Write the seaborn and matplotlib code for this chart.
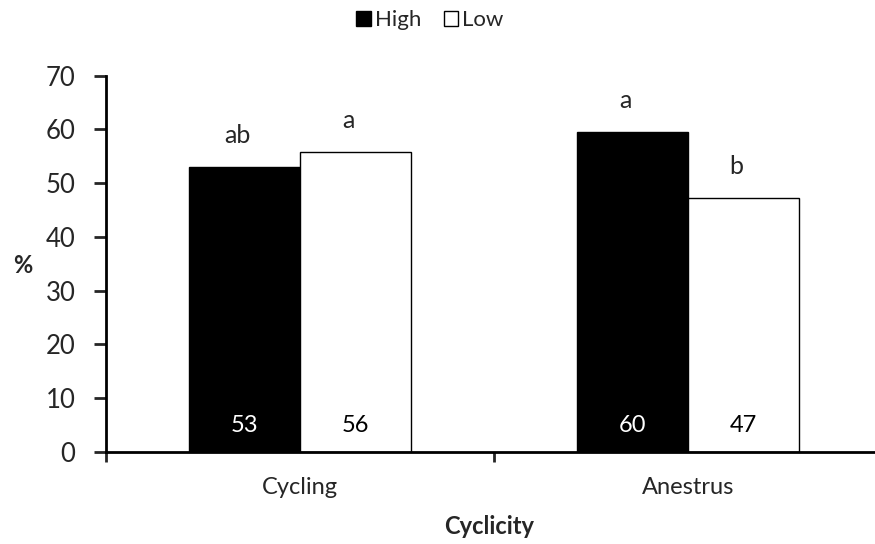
import matplotlib
matplotlib.use("Agg")
import matplotlib.pyplot as plt
import seaborn as sns
import pandas as pd
from matplotlib.patches import Patch

categories = ["Cycling", "Anestrus"]
groups = ["High", "Low"]
high_values = [53.0, 59.5]
low_values = [55.8, 47.2]
high_labels = ["53", "60"]
low_labels = ["56", "47"]
high_letters = ["ab", "a"]
low_letters = ["a", "b"]
y_ticks = [0, 10, 20, 30, 40, 50, 60, 70]

sns.set_theme(style="white")
plt.rcParams["font.family"] = ["Lato", "DejaVu Sans"]

df = pd.DataFrame({
    "Cyclicity": categories * 2,
    "Group": ["High"] * 2 + ["Low"] * 2,
    "Value": high_values + low_values,
})

fig = plt.figure(figsize=(8.75, 5.44), dpi=100)
ax = fig.add_axes([106 / 875, 1 - 452 / 544, (882 - 106) / 875, (452 - 75.7) / 544])

sns.barplot(data=df, x="Cyclicity", y="Value", hue="Group", order=categories,
            hue_order=groups, palette={"High": "black", "Low": "white"},
            width=0.572, gap=0, edgecolor="black", linewidth=1.0,
            errorbar=None, legend=False, ax=ax)

ax.set_xlim(-0.5, 1.5)
ax.set_ylim(0, 70)
ax.set_yticks(y_ticks)
ax.set_yticklabels([str(t) for t in y_ticks], fontsize=18.5)
ax.tick_params(axis="y", direction="out", length=9, width=2, left=True, pad=13)
ax.set_xticks([0, 1])
ax.set_xticklabels(categories, fontsize=17)
ax.tick_params(axis="x", which="major", length=0, pad=18)
ax.set_xticks([-0.5, 0.5, 1.5], minor=True)
ax.tick_params(axis="x", which="minor", direction="out", length=7, width=2, bottom=True)

for s in ["top", "right"]:
    ax.spines[s].set_visible(False)
for s in ["left", "bottom"]:
    ax.spines[s].set_linewidth(2)
    ax.spines[s].set_color("black")

ax.set_xlabel("Cyclicity", fontsize=17, fontweight="bold", va="center")
ax.xaxis.set_label_coords(0.4935, -0.199)
ax.set_ylabel("%", fontsize=17, fontweight="bold", rotation=0, va="center", ha="center")
ax.yaxis.set_label_coords(-0.107, 0.495)

bw = 0.286
for i in range(len(categories)):
    xh = i - bw / 2
    xl = i + bw / 2
    ax.text(xh, 5, high_labels[i], ha="center", va="center", color="white", fontsize=17)
    ax.text(xl, 5, low_labels[i], ha="center", va="center", color="black", fontsize=17)
    ax.annotate(high_letters[i], (xh, high_values[i]), xytext=(-5, 23),
                textcoords="offset points", ha="center", va="center", fontsize=18)
    ax.annotate(low_letters[i], (xl, low_values[i]), xytext=(-5, 23),
                textcoords="offset points", ha="center", va="center", fontsize=18)

handles = [Patch(facecolor="black", edgecolor="black", label="High"),
           Patch(facecolor="white", edgecolor="black", label="Low")]
fig.legend(handles=handles, loc="center", bbox_to_anchor=(430 / 875, 1 - 20 / 544),
           ncol=2, frameon=False, fontsize=16, handlelength=0.65, handleheight=0.65,
           handletextpad=0.2, columnspacing=1.0)

fig.savefig("out.png", dpi=100)
